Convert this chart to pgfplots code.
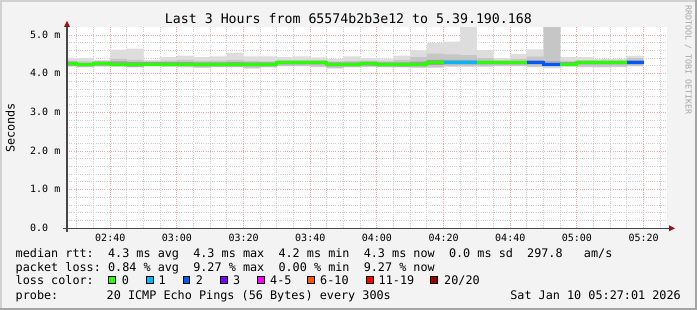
\documentclass[border=0pt]{standalone}
\usepackage{pgfplots}
\pgfplotsset{compat=1.18}
\usepackage{pgfplotstable}
\usepgfplotslibrary{fillbetween}
\usepackage{fontspec}
\setmainfont{DejaVu Sans Mono}
\newfontfamily\mono{DejaVu Sans Mono}

\definecolor{bg}{RGB}{243,243,243}
\definecolor{majgrid}{RGB}{245,165,165}
\definecolor{mingrid}{RGB}{205,205,205}
\definecolor{smokeA}{RGB}{221,221,221}
\definecolor{smokeB}{RGB}{198,198,198}
\definecolor{smokeC}{RGB}{160,160,160}
\definecolor{lossA}{RGB}{38,255,0}
\definecolor{lossB}{RGB}{0,184,255}
\definecolor{lossC}{RGB}{0,89,255}
\definecolor{lossD}{RGB}{126,0,255}
\definecolor{lossE}{RGB}{255,0,255}
\definecolor{lossF}{RGB}{255,85,0}
\definecolor{lossG}{RGB}{255,0,0}
\definecolor{lossH}{RGB}{161,0,0}
\definecolor{axisgray}{RGB}{70,70,70}
\definecolor{arrowred}{RGB}{150,20,20}
\definecolor{frameL}{RGB}{208,208,208}
\definecolor{frameD}{RGB}{165,165,165}

% smoke per 5-minute step, value holds for (t-5, t]; minutes after 02:00, values in ms
\pgfplotstableread{
t   pmin lotwo lothree med  hithree hitwo pmax
25  4.19 4.19  4.21    4.26 4.31    4.34  4.41
30  4.19 4.19  4.21    4.26 4.31    4.34  4.41
35  4.16 4.17  4.19    4.23 4.28    4.32  4.41
40  4.19 4.19  4.21    4.26 4.31    4.33  4.36
45  4.18 4.18  4.20    4.25 4.32    4.38  4.62
50  4.16 4.17  4.18    4.23 4.30    4.36  4.65
55  4.19 4.19  4.21    4.25 4.30    4.32  4.36
60  4.18 4.18  4.20    4.25 4.30    4.34  4.43
65  4.16 4.17  4.20    4.25 4.30    4.36  4.47
70  4.15 4.16  4.19    4.24 4.29    4.33  4.43
75  4.17 4.17  4.19    4.24 4.29    4.34  4.45
80  4.17 4.17  4.19    4.24 4.30    4.36  4.54
85  4.13 4.15  4.19    4.24 4.29    4.33  4.45
90  4.16 4.17  4.19    4.24 4.29    4.32  4.45
95  4.19 4.20  4.24    4.29 4.33    4.36  4.43
100 4.19 4.20  4.24    4.29 4.33    4.36  4.45
105 4.16 4.18  4.24    4.29 4.33    4.36  4.42
110 4.13 4.15  4.19    4.24 4.29    4.32  4.38
115 4.16 4.17  4.19    4.24 4.29    4.33  4.45
120 4.17 4.18  4.21    4.26 4.31    4.34  4.40
125 4.16 4.17  4.19    4.24 4.29    4.32  4.39
130 4.16 4.17  4.18    4.23 4.29    4.36  4.47
135 4.15 4.16  4.19    4.24 4.31    4.43  4.60
140 4.15 4.17  4.23    4.29 4.36    4.52  4.79
145 4.18 4.19  4.24    4.29 4.36    4.50  4.83
150 4.18 4.19  4.24    4.29 4.36    4.48  5.30
155 4.18 4.19  4.24    4.29 4.34    4.40  4.61
160 4.19 4.20  4.24    4.29 4.33    4.35  4.40
165 4.19 4.20  4.24    4.29 4.33    4.38  4.51
170 4.16 4.18  4.24    4.29 4.35    4.44  4.63
175 4.14 4.17  4.20    4.25 4.32    5.30  5.30
180 4.18 4.19  4.20    4.25 4.30    4.33  4.43
185 4.16 4.18  4.24    4.29 4.33    4.35  4.43
190 4.16 4.17  4.24    4.29 4.33    4.35  4.38
195 4.17 4.18  4.24    4.29 4.33    4.35  4.38
200 4.19 4.20  4.24    4.29 4.35    4.40  4.46
}\smoke

\begin{document}
\begin{tikzpicture}[x=1pt,y=1pt]
\pgfplotsset{set layers}
\begin{pgfonlayer}{axis background}
\fill[bg] (0,0) rectangle (697,310);
\fill[frameL] (0,308) rectangle (697,310);
\fill[frameL] (0,0) rectangle (2,310);
\fill[frameD] (0,0) rectangle (697,2);
\fill[frameD] (695,0) rectangle (697,310);
\fill[white] (67,81.7) rectangle (667,282.7);
\end{pgfonlayer}

\begin{axis}[
  at={(67pt,81.7pt)}, anchor=south west,
  width=600pt, height=201pt, scale only axis,
  xmin=27.02, xmax=207.02, ymin=0, ymax=5.2,
  axis line style={draw=none},
  major tick length=0pt, minor tick length=0pt,
  xtick={40,60,80,100,120,140,160,180,200},
  xticklabels={02:40,03:00,03:20,03:40,04:00,04:20,04:40,05:00,05:20},
  minor xtick={30,35,45,50,55,65,70,75,85,90,95,105,110,115,125,130,135,145,150,155,165,170,175,185,190,195,205},
  ytick={0,1,2,3,4,5},
  yticklabels={0.0\phantom{mm},1.0 m,2.0 m,3.0 m,4.0 m,5.0 m},
  minor ytick={0.2,0.4,0.6,0.8,1.2,1.4,1.6,1.8,2.2,2.4,2.6,2.8,3.2,3.4,3.6,3.8,4.2,4.4,4.6,4.8},
  grid=both,
  major grid style={majgrid, dash pattern=on 1pt off 1.2pt, line width=0.9pt},
  minor grid style={mingrid, dash pattern=on 1pt off 1.2pt, line width=0.9pt},
  xticklabel style={font=\mono\fontsize{10}{12}\selectfont, anchor=base, inner sep=0pt, yshift=-13pt},
  yticklabel style={font=\mono\fontsize{10}{12}\selectfont, anchor=base east, inner sep=0pt, xshift=-6.5pt, yshift=-3.3pt},
]
\addplot[draw=none, name path=A1, const plot mark right] table[x=t,y=pmin]{\smoke};
\addplot[draw=none, name path=A2, const plot mark right] table[x=t,y=pmax]{\smoke};
\addplot[draw=none, name path=B1, const plot mark right] table[x=t,y=lotwo]{\smoke};
\addplot[draw=none, name path=B2, const plot mark right] table[x=t,y=hitwo]{\smoke};
\addplot[draw=none, name path=C1, const plot mark right] table[x=t,y=lothree]{\smoke};
\addplot[draw=none, name path=C2, const plot mark right] table[x=t,y=hithree]{\smoke};
\addplot[smokeA] fill between[of=A1 and A2];
\addplot[smokeB] fill between[of=B1 and B2];
\addplot[smokeC] fill between[of=C1 and C2];
\addplot[lossA, line width=3pt, const plot mark right, line cap=butt, line join=miter] table[x=t,y=med]{\smoke};
\addplot[lossB, line width=3pt, const plot mark right, line cap=butt] coordinates {(140,4.29) (145,4.29) (150,4.29)};
\addplot[lossC, line width=3pt, const plot mark right, line cap=butt] coordinates {(165,4.29) (170,4.29) (175,4.25)};
\addplot[lossC, line width=3pt, const plot mark right, line cap=butt] coordinates {(195,4.29) (200,4.29)};
\end{axis}

% axes
\draw[axisgray, line width=1.5pt] (63,81.7) -- (670,81.7);
\fill[arrowred] (675,81.7) -- (669,84.7) -- (669,78.7) -- cycle;
\draw[axisgray, line width=1.5pt] (67,78) -- (67,284);
\fill[arrowred] (67,289) -- (64,283) -- (70,283) -- cycle;

% texts
\node[anchor=base, inner sep=0pt, font=\mono\fontsize{13.25}{15}\selectfont] at (348.4,286) {Last 3 Hours from 65574b2b3e12 to 5.39.190.168};
\node[rotate=90, anchor=base, inner sep=0pt, font=\mono\fontsize{11.8}{14}\selectfont] at (14.5,182) {Seconds};
\node[rotate=-90, anchor=center, inner sep=0pt, text=black!35, font=\mono\fontsize{8.3}{10}\selectfont] at (688.3,250) {RRDTOOL / TOBI OETIKER};

\begin{scope}[every node/.style={anchor=base west, inner sep=0pt, font=\mono\fontsize{11.8}{14}\selectfont\frenchspacing}]
\node at (15.5,52.7) {median rtt:\ \ 4.3 ms avg\ \ 4.3 ms max\ \ 4.2 ms min\ \ 4.3 ms now\ \ 0.0 ms sd\ \ 297.8\ \ \ am/s};
\node at (15.5,38.3) {packet loss: 0.84 \% avg\ \ 9.27 \% max\ \ 0.00 \% min\ \ 9.27 \% now};
\node at (15.5,25) {loss color:};
\node at (121.7,25) {0};
\node at (158.5,25) {1};
\node at (195.7,25) {2};
\node at (233,25) {3};
\node at (270,25) {4-5};
\node at (320,25) {6-10};
\node at (378.5,25) {11-19};
\node at (444,25) {20/20};
\node at (15.5,10) {probe:};
\node at (106.5,10) {20 ICMP Echo Pings (56 Bytes) every 300s};
\node[anchor=base east] at (681,10) {Sat Jan 10 05:27:01 2026};
\end{scope}
\begin{scope}[line width=0.8pt]
\filldraw[fill=lossA, draw=black] (108.7,26.2) rectangle (115.3,33.6);
\filldraw[fill=lossB, draw=black] (146.1,26.2) rectangle (152.9,33.6);
\filldraw[fill=lossC, draw=black] (183.1,26.2) rectangle (189.7,33.6);
\filldraw[fill=lossD, draw=black] (220.4,26.2) rectangle (227.0,33.6);
\filldraw[fill=lossE, draw=black] (257.1,26.2) rectangle (263.9,33.6);
\filldraw[fill=lossF, draw=black] (307.1,26.2) rectangle (313.9,33.6);
\filldraw[fill=lossG, draw=black] (366.1,26.2) rectangle (372.9,33.6);
\filldraw[fill=lossH, draw=black] (430.4,26.2) rectangle (437.0,33.6);
\end{scope}
\end{tikzpicture}
\end{document}
